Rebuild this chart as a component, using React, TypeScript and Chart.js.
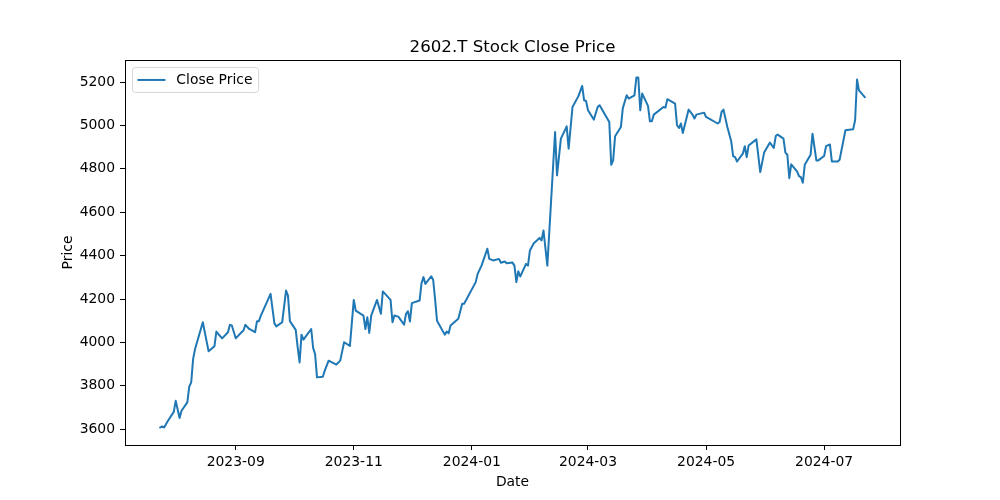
import React, { useEffect, useRef } from "react";
import { Chart, registerables } from "chart.js";

Chart.register(...registerables);

const TITLE = "2602.T Stock Close Price";
const X_LABEL = "Date";
const Y_LABEL = "Price";
const SERIES_LABEL = "Close Price";

const dates: string[] = [
  "2023-07-24", "2023-07-25", "2023-07-26", "2023-07-28", "2023-07-31", "2023-08-01", "2023-08-03", "2023-08-04",
  "2023-08-07", "2023-08-08", "2023-08-09", "2023-08-10", "2023-08-11", "2023-08-15", "2023-08-18", "2023-08-21",
  "2023-08-22", "2023-08-23", "2023-08-25", "2023-08-28", "2023-08-29", "2023-08-30", "2023-09-01", "2023-09-04",
  "2023-09-05", "2023-09-06", "2023-09-08", "2023-09-11", "2023-09-12", "2023-09-13", "2023-09-14", "2023-09-19",
  "2023-09-21", "2023-09-22", "2023-09-25", "2023-09-27", "2023-09-28", "2023-09-29", "2023-10-02", "2023-10-03",
  "2023-10-04", "2023-10-05", "2023-10-06", "2023-10-10", "2023-10-11", "2023-10-12", "2023-10-13", "2023-10-16",
  "2023-10-17", "2023-10-19", "2023-10-23", "2023-10-25", "2023-10-27", "2023-10-30", "2023-11-01", "2023-11-02",
  "2023-11-06", "2023-11-07", "2023-11-08", "2023-11-09", "2023-11-10", "2023-11-13", "2023-11-15", "2023-11-16",
  "2023-11-20", "2023-11-21", "2023-11-22", "2023-11-24", "2023-11-27", "2023-11-28", "2023-11-29", "2023-11-30",
  "2023-12-01", "2023-12-05", "2023-12-06", "2023-12-07", "2023-12-08", "2023-12-11", "2023-12-12", "2023-12-13",
  "2023-12-14", "2023-12-18", "2023-12-19", "2023-12-20", "2023-12-21", "2023-12-25", "2023-12-27", "2023-12-28",
  "2024-01-03", "2024-01-04", "2024-01-06", "2024-01-09", "2024-01-10", "2024-01-12", "2024-01-15", "2024-01-16",
  "2024-01-18", "2024-01-19", "2024-01-22", "2024-01-23", "2024-01-24", "2024-01-25", "2024-01-26", "2024-01-29",
  "2024-01-30", "2024-01-31", "2024-02-02", "2024-02-04", "2024-02-05", "2024-02-06", "2024-02-07", "2024-02-09",
  "2024-02-13", "2024-02-14", "2024-02-16", "2024-02-19", "2024-02-20", "2024-02-22", "2024-02-25", "2024-02-27",
  "2024-02-28", "2024-02-29", "2024-03-01", "2024-03-04", "2024-03-06", "2024-03-07", "2024-03-12", "2024-03-13",
  "2024-03-14", "2024-03-15", "2024-03-18", "2024-03-19", "2024-03-21", "2024-03-22", "2024-03-25", "2024-03-26",
  "2024-03-27", "2024-03-28", "2024-03-29", "2024-04-01", "2024-04-02", "2024-04-03", "2024-04-04", "2024-04-09",
  "2024-04-10", "2024-04-11", "2024-04-15", "2024-04-16", "2024-04-17", "2024-04-18", "2024-04-19", "2024-04-22",
  "2024-04-24", "2024-04-25", "2024-04-26", "2024-04-30", "2024-05-01", "2024-05-07", "2024-05-08", "2024-05-09",
  "2024-05-10", "2024-05-12", "2024-05-14", "2024-05-15", "2024-05-16", "2024-05-17", "2024-05-20", "2024-05-21",
  "2024-05-22", "2024-05-23", "2024-05-27", "2024-05-29", "2024-05-31", "2024-06-03", "2024-06-05", "2024-06-06",
  "2024-06-07", "2024-06-10", "2024-06-11", "2024-06-12", "2024-06-13", "2024-06-14", "2024-06-17", "2024-06-18",
  "2024-06-19", "2024-06-20", "2024-06-21", "2024-06-24", "2024-06-25", "2024-06-27", "2024-06-28", "2024-07-01",
  "2024-07-02", "2024-07-04", "2024-07-05", "2024-07-08", "2024-07-09", "2024-07-12", "2024-07-16", "2024-07-17",
  "2024-07-18", "2024-07-19", "2024-07-22",
];

const closePrices: number[] = [
  3608, 3613, 3608, 3639, 3680, 3731, 3652, 3685,
  3724, 3796, 3816, 3924, 3970, 4093, 3959, 3982,
  4050, 4039, 4019, 4047, 4081, 4078, 4019, 4047,
  4055, 4081, 4062, 4047, 4098, 4098, 4124, 4224,
  4088, 4074, 4093, 4239, 4216, 4098, 4058, 3978,
  3908, 4036, 4013, 4062, 3975, 3947, 3839, 3842,
  3870, 3916, 3898, 3916, 4001, 3984, 4196, 4147,
  4124, 4062, 4116, 4044, 4124, 4196, 4132, 4235,
  4196, 4093, 4124, 4119, 4082, 4132, 4144, 4096,
  4181, 4193, 4273, 4301, 4270, 4305, 4289, 4200,
  4100, 4036, 4050, 4042, 4078, 4109, 4178, 4178,
  4278, 4316, 4354, 4432, 4385, 4378, 4385, 4367,
  4373, 4365, 4368, 4354, 4278, 4328, 4304, 4362,
  4354, 4424, 4457, 4473, 4482, 4470, 4516, 4354,
  4970, 4770, 4939, 4996, 4893, 5085, 5134, 5182,
  5116, 5113, 5070, 5027, 5085, 5093, 5016, 4819,
  4839, 4950, 4993, 5080, 5139, 5124, 5139, 5221,
  5221, 5070, 5147, 5090, 5019, 5019, 5050, 5085,
  5082, 5121, 5101, 5001, 4988, 5009, 4965, 5073,
  5050, 5032, 5050, 5059, 5039, 5009, 5016, 5062,
  5073, 4993, 4927, 4859, 4854, 4834, 4870, 4904,
  4854, 4908, 4936, 4785, 4875, 4921, 4896, 4951,
  4958, 4939, 4875, 4865, 4757, 4821, 4788, 4767,
  4762, 4736, 4819, 4865, 4962, 4839, 4839, 4859,
  4905, 4912, 4834, 4834, 4842, 4978, 4982, 5024,
  5212, 5162, 5131,
];

const xTickDates: string[] = ["2023-09-01", "2023-11-01", "2024-01-01", "2024-03-01", "2024-05-01", "2024-07-01"];
const xTickLabels: string[] = ["2023-09", "2023-11", "2024-01", "2024-03", "2024-05", "2024-07"];
const yTicks: number[] = [3600, 3800, 4000, 4200, 4400, 4600, 4800, 5000, 5200];

const FONT = "'DejaVu Sans', sans-serif";
const LINE_COLOR = "#1f77b4";

const dayNum = (s: string) =>
  Date.UTC(+s.slice(0, 4), +s.slice(5, 7) - 1, +s.slice(8, 10)) / 86400000;

const textPlugin = {
  id: "mplText",
  afterDraw(chart: any) {
    const { ctx, chartArea } = chart;
    const { left, right, top, bottom } = chartArea;
    ctx.save();
    // frame
    ctx.strokeStyle = "#000";
    ctx.lineWidth = 1;
    ctx.strokeRect(Math.round(left) + 0.5, Math.round(top) + 0.5, Math.round(right - left), Math.round(bottom - top));
    // title
    ctx.fillStyle = "#000";
    ctx.font = `16.67px ${FONT}`;
    ctx.textAlign = "center";
    ctx.textBaseline = "alphabetic";
    ctx.fillText(TITLE, (left + right) / 2, top - 8.3);
    // x label
    ctx.font = `13.9px ${FONT}`;
    ctx.fillText(X_LABEL, (left + right) / 2, 486);
    // y label
    ctx.save();
    ctx.translate(72, (top + bottom) / 2);
    ctx.rotate(-Math.PI / 2);
    ctx.fillText(Y_LABEL, 0, 0);
    ctx.restore();
    // legend
    const fs = 13.9;
    const bx = left + 0.5 * fs;
    const by = top + 0.5 * fs;
    const tx = bx + 44.4;
    const tw = ctx.measureText(SERIES_LABEL).width;
    const bw = tx + tw + 0.4 * fs - bx;
    const bh = 25;
    ctx.beginPath();
    if ((ctx as any).roundRect) (ctx as any).roundRect(bx + 0.5, by + 0.5, bw, bh, 3);
    else ctx.rect(bx + 0.5, by + 0.5, bw, bh);
    ctx.fillStyle = "rgba(255,255,255,0.8)";
    ctx.fill();
    ctx.strokeStyle = "rgba(204,204,204,0.8)";
    ctx.lineWidth = 1;
    ctx.stroke();
    const cy = by + bh / 2 + 0.5;
    ctx.beginPath();
    ctx.moveTo(bx + 5.5, cy);
    ctx.lineTo(bx + 33.5, cy);
    ctx.strokeStyle = LINE_COLOR;
    ctx.lineWidth = 2;
    ctx.stroke();
    ctx.fillStyle = "#000";
    ctx.textAlign = "left";
    ctx.textBaseline = "middle";
    ctx.fillText(SERIES_LABEL, tx, cy);
    ctx.restore();
  },
};

export default function App() {
  const ref = useRef<HTMLCanvasElement | null>(null);

  useEffect(() => {
    if (!ref.current) return;
    const xs = dates.map(dayNum);
    const xMin = Math.min(...xs);
    const xMax = Math.max(...xs);
    const xSpan = xMax - xMin;
    const yMin = Math.min(...closePrices);
    const yMax = Math.max(...closePrices);
    const ySpan = yMax - yMin;
    const tickFont = { family: FONT, size: 13.9 };

    const chart = new Chart(ref.current, {
      type: "line",
      data: {
        datasets: [
          {
            label: SERIES_LABEL,
            data: xs.map((x, i) => ({ x, y: closePrices[i] })),
            borderColor: LINE_COLOR,
            backgroundColor: LINE_COLOR,
            borderWidth: 2,
            borderJoinStyle: "round",
            borderCapStyle: "square",
            pointRadius: 0,
            tension: 0,
            fill: false,
          },
        ],
      },
      options: {
        responsive: false,
        animation: false,
        devicePixelRatio: 1,
        layout: { padding: { left: 0, right: 100, top: 60, bottom: 0 } },
        plugins: {
          legend: { display: false },
          title: { display: false },
          tooltip: { enabled: false },
        },
        scales: {
          x: {
            type: "linear",
            bounds: "data",
            min: xMin - 0.05 * xSpan,
            max: xMax + 0.05 * xSpan,
            afterBuildTicks: (s: any) => {
              s.ticks = xTickDates.map((d) => ({ value: dayNum(d) }));
            },
            afterFit: (s: any) => {
              s.height = 55;
            },
            ticks: {
              autoSkip: false,
              maxRotation: 0,
              padding: 4,
              color: "#000",
              font: tickFont,
              callback: (v: any) => {
                const i = xTickDates.findIndex((d) => dayNum(d) === v);
                return i >= 0 ? xTickLabels[i] : "";
              },
            },
            grid: { drawOnChartArea: false, drawTicks: true, tickLength: 5, color: "#000", lineWidth: 1 },
            border: { display: true, color: "#000", width: 1 },
          },
          y: {
            type: "linear",
            bounds: "data",
            min: yMin - 0.05 * ySpan,
            max: yMax + 0.05 * ySpan,
            afterBuildTicks: (s: any) => {
              s.ticks = yTicks.map((v) => ({ value: v }));
            },
            afterFit: (s: any) => {
              s.width = 125;
            },
            ticks: {
              autoSkip: false,
              padding: 5,
              color: "#000",
              font: tickFont,
              callback: (v: any) => String(v),
            },
            grid: { drawOnChartArea: false, drawTicks: true, tickLength: 5, color: "#000", lineWidth: 1 },
            border: { display: true, color: "#000", width: 1 },
          },
        },
      },
      plugins: [textPlugin],
    });
    return () => chart.destroy();
  }, []);

  return (
    <div style={{ position: "absolute", left: 0, top: 0, width: 1000, height: 500, background: "#fff" }}>
      <canvas ref={ref} width={1000} height={500} style={{ display: "block" }} />
    </div>
  );
}
